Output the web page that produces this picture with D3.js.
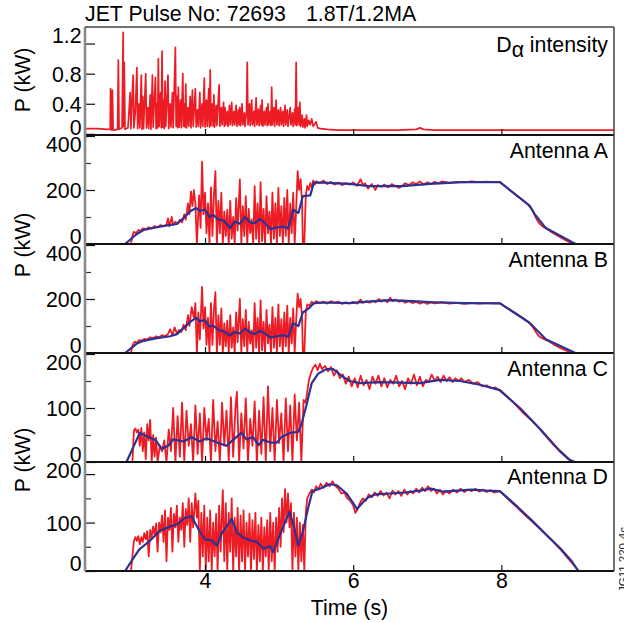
<!DOCTYPE html>
<html>
<head>
<meta charset="utf-8">
<script src="https://cdn.jsdelivr.net/npm/d3@7"></script>
<style>
body { margin: 0; background: #fff; }
svg { font-family: "Liberation Sans", Arial, Helvetica, sans-serif; }
</style>
</head>
<body>
<script>
// ---- data (time in s, power in kW) ----
const xTicks = [4, 6, 8];

const dAlpha = [[2.38,.07],[2.55,.07],[2.68,.06],[2.72,.06],[2.725,.60],[2.74,.05],[2.75,.58],[2.76,.05],[2.82,.06],[2.83,.98],[2.84,.06],[2.88,.08],[2.895,1.35],[2.90,.10],[2.91,.95],[2.92,.06],[2.96,.08],[2.99,.55],[3.00,.07],[3.02,.58],[3.03,.78],[3.04,.08],[3.06,.30],[3.08,.88],[3.09,.07],[3.11,.40],[3.12,.08],[3.14,.78],[3.15,.06],[3.16,.50],[3.17,.07],[3.20,.80],[3.21,.08],[3.23,.35],[3.24,.07],[3.26,.52],[3.27,.06],[3.29,.78],[3.30,.09],[3.33,.75],[3.34,.07],[3.35,.40],[3.36,.08],[3.37,1.0],[3.38,.10],[3.40,.55],[3.41,.08],[3.42,1.10],[3.43,.09],[3.44,.45],[3.45,.07],[3.46,.70],[3.47,.10],[3.50,.78],[3.51,.07],[3.53,.40],[3.54,.09],[3.56,.55],[3.57,.08],[3.60,1.15],[3.61,.10],[3.62,.50],[3.63,.08],[3.64,.62],[3.65,.09],[3.67,.45],[3.68,.08],[3.70,.80],[3.71,.10],[3.72,.40],[3.73,.09],[3.74,.66],[3.75,.08],[3.77,.35],[3.78,.10],[3.80,.50],[3.81,.08],[3.83,.58],[3.84,.10],[3.87,.60],[3.88,.09],[3.90,.32],[3.91,.10],[3.93,.55],[3.94,.08],[3.96,.40],[3.97,.10],[3.99,.74],[4.00,.09],[4.02,.45],[4.03,.10],[4.05,.60],[4.06,.09],[4.07,.85],[4.08,.11],[4.10,.40],[4.11,.10],[4.12,.52],[4.13,.09],[4.15,.38],[4.16,.11],[4.19,.65],[4.20,.10],[4.22,.35],[4.23,.12],[4.25,.42],[4.26,.10],[4.27,.35],[4.28,.12],[4.30,.30],[4.31,.10],[4.33,.38],[4.34,.12],[4.36,.42],[4.37,.11],[4.39,.30],[4.40,.12],[4.42,.38],[4.43,.10],[4.45,.32],[4.46,.12],[4.47,.35],[4.48,.11],[4.50,.40],[4.51,.12],[4.53,.28],[4.54,.10],[4.56,.30],[4.57,.95],[4.58,.12],[4.60,.40],[4.61,.11],[4.63,.45],[4.64,.12],[4.66,.30],[4.67,.10],[4.69,.48],[4.70,.12],[4.72,.33],[4.73,.11],[4.75,.38],[4.76,.12],[4.77,.45],[4.78,.10],[4.80,.30],[4.81,.12],[4.83,.35],[4.84,.11],[4.85,.40],[4.86,.12],[4.88,.30],[4.89,.11],[4.90,.62],[4.91,.12],[4.93,.35],[4.94,.10],[4.96,.45],[4.97,.12],[4.99,.32],[5.00,.11],[5.02,.35],[5.03,.12],[5.05,.30],[5.06,.10],[5.08,.38],[5.09,.12],[5.11,.32],[5.12,.10],[5.15,.35],[5.16,.12],[5.18,.28],[5.19,.10],[5.21,.33],[5.22,.12],[5.23,.95],[5.24,.11],[5.26,.35],[5.27,.12],[5.28,.42],[5.29,.10],[5.31,.25],[5.32,.09],[5.34,.20],[5.35,.08],[5.37,.25],[5.38,.10],[5.40,.18],[5.42,.12],[5.44,.20],[5.46,.10],[5.50,.16],[5.52,.08],[5.56,.07],[5.65,.06],[5.8,.05],[6.2,.05],[6.6,.05],[6.85,.06],[6.9,.08],[6.95,.06],[7.1,.05],[7.5,.05],[8.0,.05],[8.5,.05],[9.0,.05],[9.52,.05]];

const antARed = [[2.38,0],[3.0,0],[3.02,30],[3.04,45],[3.07,40],[3.1,52],[3.13,48],[3.16,58],[3.2,55],[3.24,62],[3.28,58],[3.32,66],[3.36,62],[3.4,70],[3.44,66],[3.48,72],[3.5,95],[3.52,65],[3.55,100],[3.57,70],[3.6,82],[3.63,75],[3.66,90],[3.69,80],[3.72,110],[3.74,90],[3.77,150],[3.79,110],[3.81,195],[3.83,140],[3.85,200],[3.87,150],[3.89,0],[3.92,180],[3.94,60],[3.96,305],[3.98,110],[4.00,190],[4.02,40],[4.04,150],[4.06,0],[4.08,210],[4.10,30],[4.12,180],[4.14,270],[4.16,0],[4.18,160],[4.20,40],[4.22,190],[4.24,0],[4.26,120],[4.28,30],[4.30,127],[4.32,0],[4.34,160],[4.36,20],[4.38,100],[4.40,0],[4.42,170],[4.44,50],[4.47,239],[4.49,0],[4.51,140],[4.53,30],[4.55,177],[4.57,0],[4.59,130],[4.61,40],[4.63,90],[4.65,0],[4.67,214],[4.69,20],[4.71,150],[4.73,0],[4.75,229],[4.77,10],[4.79,130],[4.81,0],[4.83,177],[4.85,40],[4.87,120],[4.89,0],[4.91,190],[4.93,20],[4.95,150],[4.97,0],[4.99,208],[5.01,30],[5.03,140],[5.05,0],[5.07,171],[5.09,30],[5.11,200],[5.13,0],[5.15,150],[5.17,40],[5.19,190],[5.21,0],[5.23,130],[5.25,270],[5.27,200],[5.29,240],[5.31,150],[5.32,0],[5.34,0],[5.36,180],[5.38,215],[5.40,200],[5.42,225],[5.44,210],[5.46,235],[5.48,220],[5.5,232],[5.55,225],[5.6,235],[5.65,222],[5.7,230],[5.75,220],[5.8,228],[5.85,218],[5.9,226],[5.95,220],[6.0,228],[6.05,215],[6.1,240],[6.13,218],[6.16,225],[6.2,205],[6.25,222],[6.3,200],[6.33,218],[6.38,212],[6.42,220],[6.47,210],[6.52,222],[6.57,215],[6.62,208],[6.66,215],[6.7,225],[6.75,218],[6.8,228],[6.85,222],[6.9,232],[6.95,220],[7.0,228],[7.05,222],[7.1,230],[7.15,224],[7.2,232],[7.3,226],[7.4,230],[7.5,228],[7.6,232],[7.7,229],[7.8,231],[7.9,229],[7.98,230],[8.1,203],[8.2,181],[8.3,160],[8.36,146],[8.42,125],[8.46,100],[8.5,80],[8.55,66],[8.6,58],[8.7,40],[8.8,24],[8.9,9],[9.0,0],[9.52,0]];

const antABlue = [[2.38,0],[2.92,0],[3.08,37],[3.17,52],[3.35,62],[3.53,71],[3.62,74],[3.71,96],[3.80,121],[3.88,133],[3.93,123],[4.0,127],[4.06,100],[4.11,108],[4.18,90],[4.25,87],[4.34,59],[4.40,83],[4.47,75],[4.54,100],[4.61,80],[4.67,77],[4.74,92],[4.81,77],[4.88,55],[4.97,61],[5.06,65],[5.12,57],[5.19,127],[5.26,115],[5.32,177],[5.42,180],[5.47,227],[5.59,227],[5.95,223],[6.22,214],[6.67,214],[7.03,223],[7.48,229],[7.98,229],[8.38,142],[8.45,110],[8.6,59],[9.0,0],[9.52,0]];

const antBRed = [[2.38,0],[3.0,0],[3.02,28],[3.05,42],[3.08,38],[3.11,48],[3.14,45],[3.18,52],[3.22,50],[3.26,58],[3.30,55],[3.34,62],[3.38,58],[3.42,66],[3.46,62],[3.50,70],[3.53,88],[3.56,66],[3.59,95],[3.62,72],[3.65,85],[3.68,78],[3.71,105],[3.74,85],[3.77,140],[3.79,100],[3.82,170],[3.85,130],[3.87,185],[3.89,0],[3.91,150],[3.93,50],[3.96,245],[3.98,90],[4.00,170],[4.02,30],[4.04,130],[4.06,0],[4.08,185],[4.10,30],[4.12,160],[4.14,225],[4.16,0],[4.18,140],[4.20,30],[4.22,165],[4.24,0],[4.26,110],[4.28,25],[4.30,120],[4.32,0],[4.34,140],[4.36,20],[4.38,95],[4.40,0],[4.42,150],[4.44,40],[4.47,200],[4.49,0],[4.51,125],[4.53,25],[4.55,160],[4.57,0],[4.59,115],[4.61,35],[4.63,85],[4.65,0],[4.67,185],[4.69,20],[4.71,130],[4.73,0],[4.75,195],[4.77,10],[4.79,115],[4.81,0],[4.83,160],[4.85,35],[4.87,105],[4.89,0],[4.91,170],[4.93,20],[4.95,130],[4.97,0],[4.99,180],[5.01,25],[5.03,125],[5.05,0],[5.07,150],[5.09,25],[5.11,175],[5.13,0],[5.15,130],[5.17,35],[5.19,165],[5.21,0],[5.23,120],[5.25,220],[5.27,170],[5.29,200],[5.31,130],[5.32,0],[5.34,0],[5.36,150],[5.38,180],[5.41,175],[5.44,190],[5.47,182],[5.5,192],[5.55,185],[5.6,190],[5.65,183],[5.7,192],[5.75,186],[5.8,190],[5.85,182],[5.9,188],[5.95,184],[6.0,190],[6.05,183],[6.1,198],[6.13,185],[6.18,192],[6.22,186],[6.27,194],[6.3,188],[6.35,200],[6.38,190],[6.42,196],[6.46,188],[6.5,205],[6.53,192],[6.57,198],[6.62,190],[6.66,195],[6.7,186],[6.75,192],[6.8,185],[6.85,190],[6.9,183],[6.95,188],[7.0,182],[7.05,187],[7.1,184],[7.2,188],[7.3,183],[7.4,186],[7.5,182],[7.6,186],[7.7,183],[7.8,186],[7.9,184],[7.98,185],[8.1,163],[8.2,146],[8.3,128],[8.36,116],[8.42,98],[8.46,80],[8.5,64],[8.55,55],[8.62,46],[8.7,33],[8.8,18],[8.9,6],[8.99,0],[9.52,0]];

const antBBlue = [[2.38,0],[2.92,0],[3.08,35],[3.17,45],[3.35,55],[3.53,62],[3.62,70],[3.71,92],[3.80,115],[3.88,130],[3.93,118],[4.0,122],[4.06,98],[4.11,102],[4.18,85],[4.25,80],[4.34,65],[4.40,78],[4.47,72],[4.54,90],[4.61,76],[4.67,70],[4.74,82],[4.81,72],[4.88,58],[4.97,62],[5.06,66],[5.12,60],[5.19,110],[5.26,100],[5.32,150],[5.40,165],[5.47,185],[5.6,187],[5.95,185],[6.2,190],[6.49,196],[6.8,192],[7.1,188],[7.5,185],[7.98,184],[8.38,112],[8.6,51],[9.0,0],[9.52,0]];

const antCRed = [[2.38,0],[3.02,0],[3.04,58],[3.06,62],[3.08,55],[3.10,60],[3.12,30],[3.14,63],[3.16,20],[3.18,55],[3.20,5],[3.22,70],[3.24,40],[3.26,78],[3.28,0],[3.30,50],[3.32,10],[3.34,45],[3.36,0],[3.39,30],[3.42,20],[3.45,40],[3.48,0],[3.51,60],[3.54,20],[3.57,100],[3.60,0],[3.63,85],[3.66,10],[3.69,110],[3.72,0],[3.75,95],[3.78,30],[3.81,70],[3.84,0],[3.87,105],[3.90,15],[3.93,90],[3.96,0],[3.99,100],[4.02,40],[4.05,80],[4.08,0],[4.11,115],[4.14,20],[4.17,75],[4.20,0],[4.23,110],[4.26,30],[4.29,95],[4.32,0],[4.35,120],[4.38,10],[4.41,100],[4.43,130],[4.46,0],[4.49,90],[4.52,25],[4.55,118],[4.58,0],[4.61,80],[4.64,30],[4.67,112],[4.70,0],[4.73,95],[4.76,15],[4.79,120],[4.82,0],[4.85,140],[4.88,20],[4.91,100],[4.94,0],[4.97,115],[5.00,35],[5.03,90],[5.06,0],[5.09,118],[5.12,20],[5.15,105],[5.18,0],[5.21,125],[5.24,40],[5.27,110],[5.30,0],[5.33,115],[5.35,110],[5.37,120],[5.40,150],[5.43,165],[5.46,175],[5.49,180],[5.52,170],[5.55,182],[5.58,172],[5.62,178],[5.66,168],[5.70,176],[5.74,160],[5.78,170],[5.82,155],[5.86,162],[5.90,145],[5.94,158],[5.98,140],[6.02,155],[6.06,138],[6.10,160],[6.14,142],[6.18,152],[6.22,135],[6.26,158],[6.30,145],[6.34,160],[6.38,140],[6.42,155],[6.46,138],[6.50,152],[6.54,145],[6.58,160],[6.62,140],[6.66,150],[6.70,135],[6.74,155],[6.78,145],[6.82,162],[6.86,142],[6.90,158],[6.94,140],[6.98,152],[7.02,148],[7.06,162],[7.10,150],[7.14,158],[7.18,148],[7.22,160],[7.26,150],[7.30,157],[7.34,148],[7.38,155],[7.42,150],[7.46,155],[7.50,148],[7.56,152],[7.62,145],[7.68,148],[7.74,140],[7.80,142],[7.86,137],[7.92,138],[7.98,132],[8.1,118],[8.2,105],[8.3,90],[8.4,78],[8.5,64],[8.6,48],[8.7,32],[8.8,18],[8.9,6],[8.98,0],[9.52,0]];

const antCBlue = [[2.38,0],[2.94,0],[3.12,54],[3.24,46],[3.33,41],[3.42,24],[3.51,31],[3.57,42],[3.71,38],[3.82,46],[3.93,38],[4.02,44],[4.16,36],[4.29,30],[4.38,41],[4.49,54],[4.56,42],[4.65,46],[4.72,31],[4.78,41],[4.88,36],[4.97,36],[5.03,46],[5.15,54],[5.26,56],[5.30,69],[5.37,106],[5.44,146],[5.53,164],[5.64,172],[5.73,172],[5.86,158],[5.95,150],[6.09,146],[6.36,148],[6.9,146],[7.17,152],[7.44,150],[7.71,143],[7.98,133],[8.25,100],[8.51,63],[8.78,22],[8.92,4],[8.99,0],[9.52,0]];

const antDRed = [[2.38,0],[3.0,0],[3.02,30],[3.04,62],[3.06,70],[3.08,62],[3.10,72],[3.12,55],[3.14,70],[3.16,60],[3.18,78],[3.20,66],[3.22,82],[3.24,30],[3.26,85],[3.28,70],[3.30,92],[3.32,75],[3.34,98],[3.36,40],[3.38,100],[3.40,80],[3.42,115],[3.44,60],[3.46,125],[3.48,20],[3.50,110],[3.52,85],[3.54,130],[3.56,40],[3.58,118],[3.60,90],[3.62,135],[3.64,60],[3.66,110],[3.68,85],[3.70,140],[3.72,50],[3.74,128],[3.76,95],[3.78,150],[3.80,60],[3.82,140],[3.84,90],[3.87,160],[3.89,110],[3.91,145],[3.93,0],[3.95,120],[3.97,30],[3.99,135],[4.01,0],[4.03,110],[4.05,20],[4.07,125],[4.09,0],[4.11,100],[4.13,30],[4.15,118],[4.17,0],[4.19,135],[4.21,40],[4.24,167],[4.26,20],[4.28,140],[4.30,0],[4.32,120],[4.34,40],[4.36,150],[4.38,0],[4.40,110],[4.42,30],[4.44,130],[4.46,0],[4.48,115],[4.50,20],[4.52,125],[4.54,0],[4.56,100],[4.58,30],[4.60,118],[4.62,0],[4.64,105],[4.66,25],[4.68,120],[4.70,0],[4.72,95],[4.74,20],[4.76,110],[4.78,0],[4.80,90],[4.82,30],[4.84,105],[4.86,0],[4.88,120],[4.90,20],[4.92,100],[4.94,0],[4.96,110],[4.98,40],[5.00,130],[5.02,50],[5.04,150],[5.06,80],[5.08,169],[5.10,100],[5.12,160],[5.14,90],[5.16,140],[5.18,0],[5.20,120],[5.22,30],[5.24,110],[5.26,0],[5.28,100],[5.30,20],[5.32,95],[5.34,0],[5.36,120],[5.38,150],[5.41,160],[5.44,168],[5.47,162],[5.50,175],[5.53,168],[5.56,180],[5.60,172],[5.64,182],[5.68,175],[5.72,185],[5.76,176],[5.80,170],[5.84,160],[5.88,162],[5.92,150],[5.96,145],[6.00,135],[6.03,120],[6.06,128],[6.09,140],[6.13,150],[6.17,145],[6.21,158],[6.25,152],[6.29,162],[6.33,155],[6.37,165],[6.41,156],[6.45,162],[6.49,150],[6.53,166],[6.57,158],[6.61,165],[6.65,155],[6.69,168],[6.73,158],[6.77,165],[6.81,160],[6.85,170],[6.89,162],[6.93,172],[6.97,165],[7.01,175],[7.05,165],[7.09,170],[7.13,160],[7.17,168],[7.21,158],[7.25,165],[7.30,160],[7.35,168],[7.40,162],[7.45,170],[7.50,163],[7.55,168],[7.60,165],[7.65,170],[7.70,164],[7.75,168],[7.80,163],[7.85,167],[7.90,162],[7.98,165],[8.1,147],[8.2,133],[8.3,118],[8.4,104],[8.5,90],[8.6,75],[8.7,60],[8.8,44],[8.9,26],[9.0,8],[9.04,0],[9.52,0]];

const antDBlue = [[2.38,0],[2.92,0],[3.11,44],[3.26,63],[3.39,83],[3.51,91],[3.62,96],[3.73,110],[3.82,113],[3.87,98],[3.93,81],[4.0,65],[4.09,63],[4.16,53],[4.23,79],[4.29,91],[4.36,108],[4.43,79],[4.52,69],[4.61,63],[4.70,60],[4.79,46],[4.88,51],[4.92,39],[4.99,67],[5.08,101],[5.14,122],[5.20,91],[5.26,53],[5.32,81],[5.39,129],[5.45,165],[5.55,170],[5.68,179],[5.78,177],[5.91,160],[6.0,140],[6.05,128],[6.12,140],[6.2,152],[6.3,158],[6.5,160],[6.7,162],[6.9,166],[7.05,170],[7.2,164],[7.4,166],[7.6,168],[7.8,166],[7.98,165],[8.2,135],[8.4,106],[8.6,76],[8.8,46],[8.95,20],[9.04,0],[9.52,0]];

const panelNames = ["intensity", "Antenna A", "Antenna B", "Antenna C", "Antenna D"];
const majorTicks = [[0, 0.4, 0.8, 1.2], [0, 200, 400], [0, 200, 400], [0, 100, 200], [0, 100, 200]];
const minorTicks = [[], [100, 300], [100, 300], [50, 150], [50, 150]];
const yDomains = [[-0.015, 1.42], [0, 400], [0, 400], [0, 200], [0, 225]];
const redSeries = [dAlpha, antARed, antBRed, antCRed, antDRed];
const blueSeries = [null, antABlue, antBBlue, antCBlue, antDBlue];

// ---- layout ----
const W = 624, H = 623;
const left = 85, right = 614;
const bands = [[27, 135], [136, 244], [245, 353], [354, 462], [462, 571]];
const red = "#ed1c24", blue = "#2e3192";
const fs = "21.3px";

const svg = d3.select("body").append("svg")
    .attr("width", W).attr("height", H);

const x = d3.scaleLinear().domain([2.38, 9.52]).range([left, right]);

svg.append("defs").selectAll("clipPath")
    .data(bands).enter().append("clipPath")
    .attr("id", (d, i) => "clip" + i)
    .append("rect")
    .attr("x", left).attr("y", d => d[0])
    .attr("width", right - left).attr("height", d => d[1] - d[0]);

bands.forEach(function(b, i) {
    const y = d3.scaleLinear().domain(yDomains[i]).range([b[1], b[0]]);
    const line = d3.line().x(d => x(d[0])).y(d => y(d[1]));
    const g = svg.append("g");

    // signals
    const plot = g.append("g").attr("clip-path", "url(#clip" + i + ")");
    plot.append("path").datum(redSeries[i])
        .attr("d", line).attr("fill", "none")
        .attr("stroke", red).attr("stroke-width", i == 0 ? 1.7 : 1.8)
        .attr("stroke-linejoin", "round");
    if (blueSeries[i]) {
        plot.append("path").datum(blueSeries[i])
            .attr("d", line).attr("fill", "none")
            .attr("stroke", blue).attr("stroke-width", 2.2)
            .attr("stroke-linejoin", "round");
    }

    // bottom border of panel
    g.append("line")
        .attr("x1", left).attr("x2", right)
        .attr("y1", b[1]).attr("y2", b[1])
        .attr("stroke", "#111").attr("stroke-width", 2);

    // x ticks pointing up
    const xa = g.append("g")
        .attr("transform", "translate(0," + b[1] + ")")
        .call(d3.axisBottom(x).tickValues(xTicks).tickSize(-6).tickPadding(2)
            .tickFormat(i == 4 ? d3.format("d") : ""));
    xa.select(".domain").remove();
    xa.selectAll("line").attr("stroke", "#111").attr("stroke-width", 1.2);
    xa.selectAll("text").attr("font-size", fs).attr("fill", "#000")
        .attr("font-family", "Liberation Sans, Arial, sans-serif");

    // y ticks pointing right
    const ya = g.append("g")
        .attr("transform", "translate(" + left + ",0)")
        .call(d3.axisLeft(y).tickValues(majorTicks[i]).tickSize(-10).tickPadding(3.5)
            .tickFormat(d => d == 0 ? "0" : String(d)));
    ya.select(".domain").remove();
    ya.selectAll("line").attr("stroke", "#111").attr("stroke-width", 1.2);
    const maxTick = d3.max(majorTicks[i]);
    ya.selectAll(".tick text")
        .attr("font-size", fs).attr("fill", "#000")
        .attr("font-family", "Liberation Sans, Arial, sans-serif")
        .attr("dy", "0.35em")
        .attr("y", d => d == 0 ? (b[1] - 8) - y(d) : (d == maxTick ? (b[0] + 8) - y(d) : 0));

    const ym = g.append("g")
        .attr("transform", "translate(" + left + ",0)")
        .call(d3.axisLeft(y).tickValues(minorTicks[i]).tickSize(-6).tickFormat(""));
    ym.select(".domain").remove();
    ym.selectAll("line").attr("stroke", "#333").attr("stroke-width", 1.2);

    // panel label
    const lab = g.append("text")
        .attr("x", 608).attr("y", b[0] + 22)
        .attr("text-anchor", "end")
        .attr("font-size", fs).attr("fill", "#000");
    if (i == 0) {
        lab.attr("y", b[0] + 25);
        lab.append("tspan").text("D");
        lab.append("tspan").attr("dy", 5).text("\u03b1");
        lab.append("tspan").attr("dy", -5).text(" " + panelNames[i]);
    } else {
        lab.text(panelNames[i]);
    }
});

// frame: left axis (grey), top and right borders
svg.append("line").attr("x1", left).attr("x2", left).attr("y1", 27).attr("y2", 571)
    .attr("stroke", "#8a8a8a").attr("stroke-width", 2.6);
svg.append("line").attr("x1", left).attr("x2", right).attr("y1", 27).attr("y2", 27)
    .attr("stroke", "#444").attr("stroke-width", 1.5);
svg.append("line").attr("x1", right).attr("x2", right).attr("y1", 27).attr("y2", 571)
    .attr("stroke", "#444").attr("stroke-width", 1.5);

// titles
svg.append("text").attr("x", 85).attr("y", 21)
    .attr("font-size", fs).attr("fill", "#000")
    .text("JET Pulse No: 72693");
svg.append("text").attr("x", 306).attr("y", 21)
    .attr("font-size", fs).attr("fill", "#000")
    .text("1.8T/1.2MA");

[80, 245, 460].forEach(function(cy) {
    svg.append("text")
        .attr("transform", "translate(23," + cy + ") rotate(-90)")
        .attr("text-anchor", "middle").attr("dy", "0.35em")
        .attr("font-size", fs).attr("fill", "#000")
        .text("P (kW)");
});

svg.append("text").attr("x", 349.5).attr("y", 615)
    .attr("text-anchor", "middle")
    .attr("font-size", fs).attr("fill", "#000")
    .text("Time (s)");

svg.append("text")
    .attr("transform", "translate(627,592) rotate(-90)")
    .attr("font-size", "11.5px").attr("fill", "#222")
    .text("JG11.220-4c");
</script>
</body>
</html>
